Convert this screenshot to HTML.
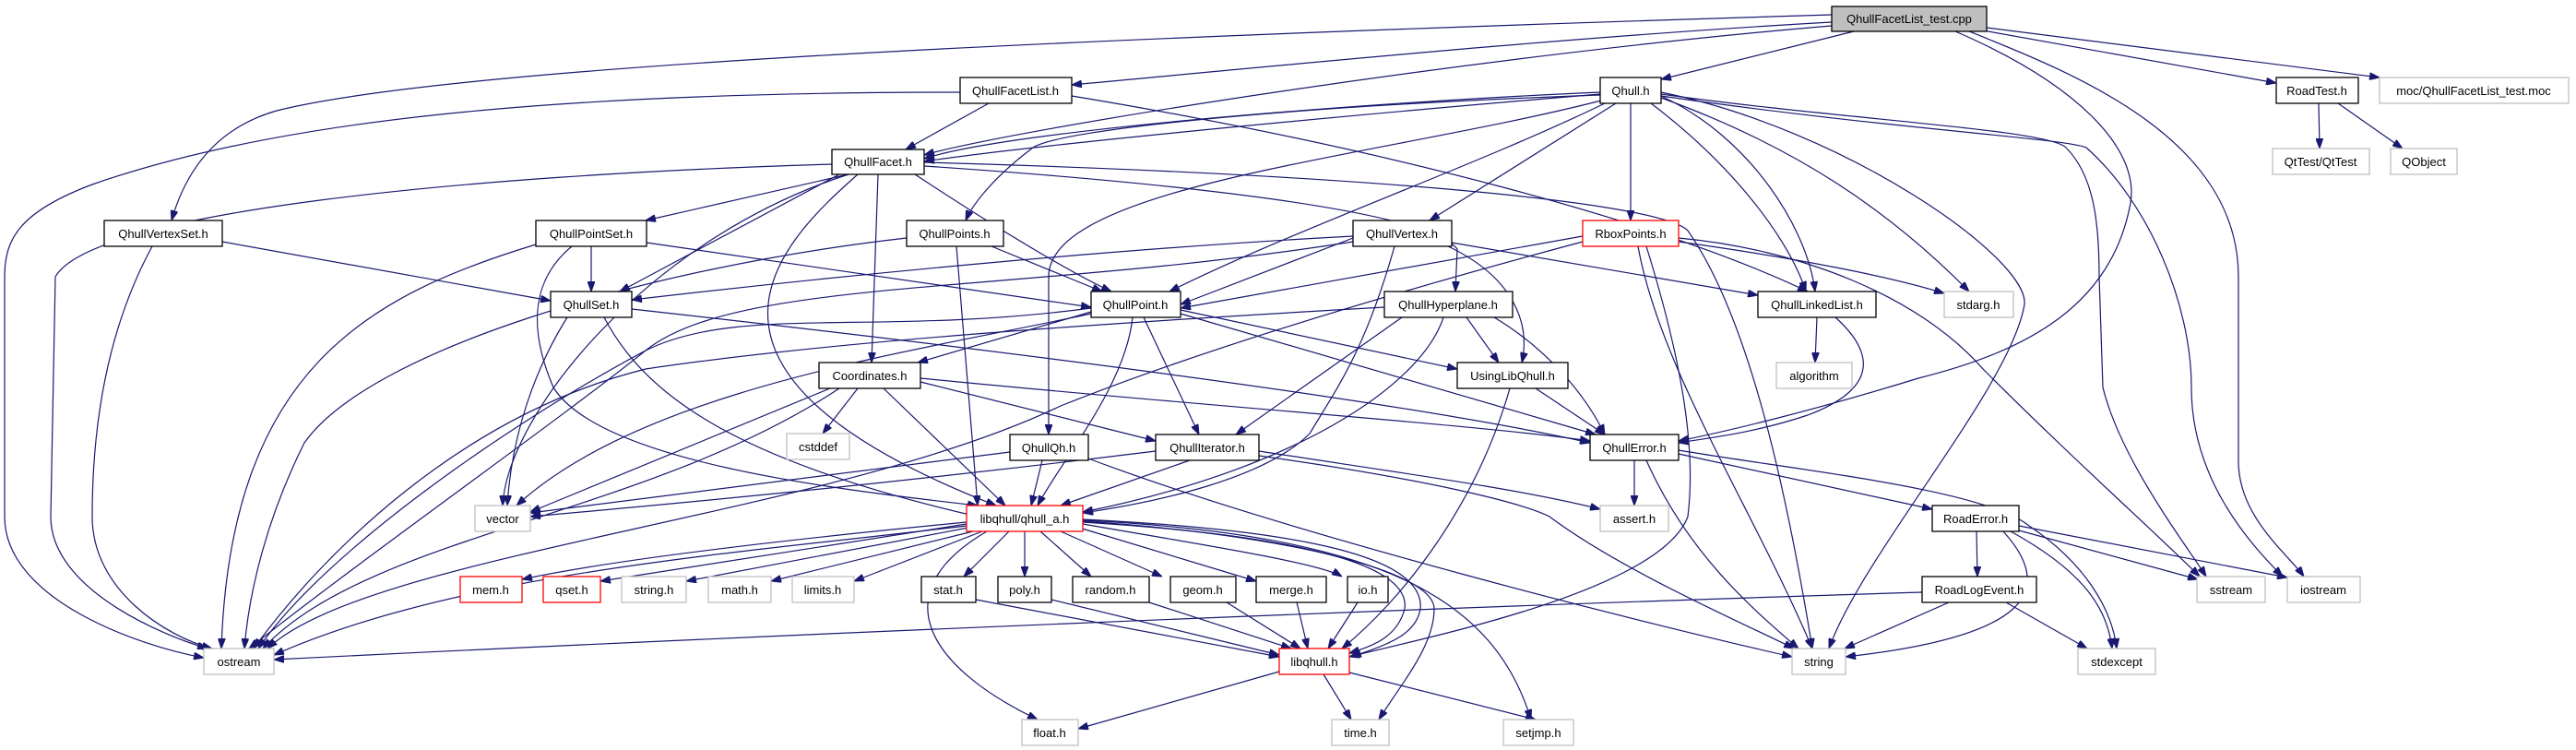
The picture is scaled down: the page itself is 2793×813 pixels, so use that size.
<!DOCTYPE html>
<html><head><meta charset="utf-8"><style>
html,body{margin:0;padding:0;background:#fff;}
svg{display:block;}
text{font-family:"Liberation Sans",sans-serif;font-size:13px;fill:#000;}
.e{fill:none;stroke:#191970;stroke-width:1.2;marker-end:url(#a);}
.n{fill:#fff;stroke:#000;stroke-width:1.3;}
.g{fill:#fff;stroke:#bfbfbf;stroke-width:1.3;}
.r{fill:#fff;stroke:#ff0000;stroke-width:1.3;}
</style></head><body>
<svg width="2793" height="813" viewBox="0 0 2793 813" xmlns="http://www.w3.org/2000/svg">
<defs><marker id="a" markerWidth="11" markerHeight="8" refX="11" refY="4" orient="auto" markerUnits="userSpaceOnUse"><path d="M0,0 L11,4 L0,8 z" fill="#191970" stroke="#191970"/></marker></defs>
<g>
<path class="e" d="M1986,24 C1700,40 1400,70 1162,92"/>
<path class="e" d="M1986,28 C1600,60 1100,140 1002,168"/>
<path class="e" d="M2010,34 L1801,86"/>
<path class="e" d="M1986,16 C1200,40 500,70 300,120 C230,140 200,190 186,239"/>
<path class="e" d="M2120,34 C2250,90 2320,160 2310,220 C2290,330 2200,380 2080,410 C1950,450 1860,470 1820,478"/>
<path class="e" d="M2135,34 C2250,80 2427,150 2427,300 L2427,500 C2427,560 2480,600 2498,625"/>
<path class="e" d="M2150,33 L2468,90"/>
<path class="e" d="M2154,30 L2580,84"/>
<path class="e" d="M2514,112 L2515,161"/>
<path class="e" d="M2535,112 L2605,161"/>
<path class="e" d="M1041,100 C600,100 300,130 100,200 C20,230 5,260 5,300 L5,560 C5,650 150,700 221,713"/>
<path class="e" d="M1072,112 L982,162"/>
<path class="e" d="M1162,104 C1500,160 1800,240 1960,316"/>
<path class="e" d="M1735,100 C1500,110 1100,140 1002,172"/>
<path class="e" d="M1735,102 C1400,130 1100,160 1002,175"/>
<path class="e" d="M1735,103 C1400,115 1150,140 1120,160 C1080,190 1055,220 1047,239"/>
<path class="e" d="M1740,112 C1600,180 1400,250 1268,316"/>
<path class="e" d="M1740,108 C1500,170 1137,200 1137,300 L1137,471"/>
<path class="e" d="M1752,112 L1550,239"/>
<path class="e" d="M1768,112 L1768,239"/>
<path class="e" d="M1801,104 C1900,150 1960,250 1968,316"/>
<path class="e" d="M1790,112 C1880,180 1940,260 1958,316"/>
<path class="e" d="M1801,106 C1950,160 2050,230 2135,316"/>
<path class="e" d="M1801,100 C2000,140 2200,280 2195,330 C2180,420 2020,600 1983,703"/>
<path class="e" d="M1801,102 C2000,130 2220,140 2240,160 C2270,190 2276,240 2276,300 L2280,420 C2300,500 2370,590 2392,625"/>
<path class="e" d="M1801,104 C2050,140 2240,150 2262,160 C2330,220 2376,330 2376,420 C2376,520 2440,590 2475,625"/>
<path class="e" d="M1820,258 C1950,270 2080,320 2150,400 C2250,500 2340,580 2385,625"/>
<path class="e" d="M1820,262 C1950,280 2050,300 2108,318"/>
<path class="e" d="M1574,263 L1906,320"/>
<path class="e" d="M1776,267 C1800,400 1900,550 1965,703"/>
<path class="e" d="M1785,267 C1820,380 1840,480 1830,560 C1800,640 1550,690 1463,712"/>
<path class="e" d="M1990,344 C2030,380 2040,420 1960,450 C1900,470 1850,475 1820,480"/>
<path class="e" d="M1772,499 L1772,548"/>
<path class="e" d="M1785,499 C1830,600 1900,660 1950,703"/>
<path class="e" d="M1820,492 L2095,552"/>
<path class="e" d="M1820,488 C1950,510 2150,530 2200,570 C2260,610 2290,660 2295,703"/>
<path class="e" d="M2143,576 L2144,625"/>
<path class="e" d="M2172,576 C2230,640 2200,690 2001,712"/>
<path class="e" d="M2189,575 L2383,628"/>
<path class="e" d="M2189,570 L2480,626"/>
<path class="e" d="M2180,576 C2260,620 2285,660 2290,703"/>
<path class="e" d="M2113,653 L2000,703"/>
<path class="e" d="M2175,653 L2263,703"/>
<path class="e" d="M2084,642 C1500,660 800,690 297,715"/>
<path class="e" d="M1365,489 C1500,510 1650,530 1735,552"/>
<path class="e" d="M1365,494 C1550,520 1650,545 1680,560 C1760,620 1900,680 1945,703"/>
<path class="e" d="M1253,489 C1000,520 800,540 575,560"/>
<path class="e" d="M1290,499 L1150,548"/>
<path class="e" d="M1130,499 L1118,548"/>
<path class="e" d="M1095,490 L575,556"/>
<path class="e" d="M1180,497 C1400,580 1800,680 1943,712"/>
<path class="e" d="M930,421 L892,470"/>
<path class="e" d="M900,421 L575,555"/>
<path class="e" d="M910,421 C700,560 400,580 285,703"/>
<path class="e" d="M998,414 L1253,478"/>
<path class="e" d="M958,421 L1090,548"/>
<path class="e" d="M998,410 C1300,440 1600,460 1724,478"/>
<path class="e" d="M1183,338 L995,393"/>
<path class="e" d="M1240,344 L1300,471"/>
<path class="e" d="M1228,344 C1220,420 1150,500 1125,548"/>
<path class="e" d="M1280,340 L1730,471"/>
<path class="e" d="M1280,336 L1580,400"/>
<path class="e" d="M1183,334 C950,365 800,330 700,380 C550,460 350,600 280,703"/>
<path class="e" d="M1183,340 C1000,380 700,420 560,548"/>
<path class="e" d="M1520,344 L1340,471"/>
<path class="e" d="M1590,344 L1625,393"/>
<path class="e" d="M1620,344 C1680,380 1720,430 1740,471"/>
<path class="e" d="M1565,344 C1540,420 1400,510 1174,555"/>
<path class="e" d="M1501,333 C1200,350 900,370 700,400 C500,450 350,600 275,703"/>
<path class="e" d="M1665,421 L1740,471"/>
<path class="e" d="M1637,421 C1600,550 1520,650 1455,703"/>
<path class="e" d="M1467,258 L1280,330"/>
<path class="e" d="M1467,256 C1200,270 900,300 685,325"/>
<path class="e" d="M1570,267 C1640,300 1660,350 1650,393"/>
<path class="e" d="M1512,267 C1480,380 1450,420 1420,470 C1370,520 1250,545 1174,556"/>
<path class="e" d="M1467,262 C1100,320 800,300 700,380 C600,460 400,600 270,703"/>
<path class="e" d="M1716,256 L1280,334"/>
<path class="e" d="M1716,262 C1500,320 1300,380 1150,440 C900,560 400,600 290,703"/>
<path class="e" d="M1075,267 L1195,316"/>
<path class="e" d="M1037,267 L1060,548"/>
<path class="e" d="M983,258 C700,290 400,380 330,480 C290,560 270,640 265,703"/>
<path class="e" d="M641,267 L641,316"/>
<path class="e" d="M701,263 L1183,333"/>
<path class="e" d="M581,265 C400,320 250,400 240,703"/>
<path class="e" d="M620,267 C580,300 570,350 600,420 C650,500 900,530 1060,548"/>
<path class="e" d="M241,262 L597,326"/>
<path class="e" d="M165,267 C120,350 100,450 100,560 C100,640 180,690 230,703"/>
<path class="e" d="M685,335 C1000,370 1500,430 1724,480"/>
<path class="e" d="M615,344 C580,400 555,470 550,548"/>
<path class="e" d="M655,344 C700,430 800,500 1060,560"/>
<path class="e" d="M902,178 C500,190 100,230 60,300 L55,560 C55,640 180,690 225,703"/>
<path class="e" d="M920,189 C700,260 550,450 545,548"/>
<path class="e" d="M910,189 L672,316"/>
<path class="e" d="M920,189 L700,239"/>
<path class="e" d="M952,189 L945,393"/>
<path class="e" d="M992,189 C1100,260 1170,300 1205,316"/>
<path class="e" d="M1002,180 C1300,200 1550,230 1580,270 L1578,316"/>
<path class="e" d="M1002,176 C1500,190 1800,220 1830,250 C1900,350 1940,550 1965,703"/>
<path class="e" d="M930,189 C850,260 700,400 1080,548"/>
<path class="e" d="M1048,566 C800,590 650,610 566,628"/>
<path class="e" d="M1048,568 L651,630"/>
<path class="e" d="M1050,572 L744,630"/>
<path class="e" d="M1055,576 L836,630"/>
<path class="e" d="M1065,576 L926,630"/>
<path class="e" d="M1094,576 L1045,625"/>
<path class="e" d="M1111,576 L1111,625"/>
<path class="e" d="M1128,576 L1183,625"/>
<path class="e" d="M1150,576 L1260,625"/>
<path class="e" d="M1170,572 L1362,630"/>
<path class="e" d="M1174,568 C1300,590 1430,610 1455,625"/>
<path class="e" d="M1174,566 C1400,580 1530,610 1523,660 C1515,690 1490,700 1463,708"/>
<path class="e" d="M1174,563 C1420,575 1545,605 1540,660 C1535,690 1500,700 1465,712"/>
<path class="e" d="M1070,576 C960,640 1000,720 1125,780"/>
<path class="e" d="M1174,565 C1400,580 1555,620 1555,660 C1555,700 1520,740 1495,780"/>
<path class="e" d="M1174,564 C1500,580 1620,650 1660,780"/>
<path class="e" d="M1048,570 C800,600 500,620 297,710"/>
<path class="e" d="M1058,650 L1387,712"/>
<path class="e" d="M1140,650 L1387,710"/>
<path class="e" d="M1246,653 L1400,703"/>
<path class="e" d="M1330,653 L1410,703"/>
<path class="e" d="M1406,653 L1418,703"/>
<path class="e" d="M1472,653 L1440,703"/>
<path class="e" d="M1387,728 L1169,790"/>
<path class="e" d="M1435,731 L1465,780"/>
<path class="e" d="M1463,729 L1665,780"/>
<path class="e" d="M1970,344 L1968,393"/>
</g>
<g text-anchor="middle">
<rect x="1986" y="7" width="168" height="27" fill="#bfbfbf" stroke="#000" stroke-width="1.3"/><text x="2070" y="25">QhullFacetList_test.cpp</text>
<rect class="n" x="1041" y="84" width="121" height="28"/><text x="1101" y="103">QhullFacetList.h</text>
<rect class="n" x="1735" y="84" width="66" height="28"/><text x="1768" y="103">Qhull.h</text>
<rect class="n" x="2468" y="84" width="89" height="28"/><text x="2512" y="103">RoadTest.h</text>
<rect class="g" x="2580" y="84" width="205" height="28"/><text x="2682" y="103">moc/QhullFacetList_test.moc</text>
<rect class="n" x="902" y="162" width="100" height="27"/><text x="952" y="180">QhullFacet.h</text>
<rect class="g" x="2464" y="161" width="105" height="28"/><text x="2516" y="180">QtTest/QtTest</text>
<rect class="g" x="2592" y="161" width="72" height="28"/><text x="2628" y="180">QObject</text>
<rect class="n" x="113" y="239" width="128" height="28"/><text x="177" y="258">QhullVertexSet.h</text>
<rect class="n" x="581" y="239" width="120" height="28"/><text x="641" y="258">QhullPointSet.h</text>
<rect class="n" x="983" y="239" width="105" height="28"/><text x="1035" y="258">QhullPoints.h</text>
<rect class="n" x="1467" y="239" width="107" height="28"/><text x="1520" y="258">QhullVertex.h</text>
<rect class="r" x="1716" y="239" width="104" height="28"/><text x="1768" y="258">RboxPoints.h</text>
<rect class="n" x="597" y="316" width="88" height="28"/><text x="641" y="335">QhullSet.h</text>
<rect class="n" x="1183" y="316" width="97" height="28"/><text x="1231" y="335">QhullPoint.h</text>
<rect class="n" x="1501" y="316" width="139" height="28"/><text x="1570" y="335">QhullHyperplane.h</text>
<rect class="n" x="1906" y="316" width="128" height="28"/><text x="1970" y="335">QhullLinkedList.h</text>
<rect class="g" x="2108" y="316" width="75" height="28"/><text x="2145" y="335">stdarg.h</text>
<rect class="n" x="888" y="393" width="110" height="28"/><text x="943" y="412">Coordinates.h</text>
<rect class="n" x="1580" y="393" width="120" height="28"/><text x="1640" y="412">UsingLibQhull.h</text>
<rect class="g" x="1926" y="393" width="82" height="28"/><text x="1967" y="412">algorithm</text>
<rect class="g" x="853" y="470" width="68" height="28"/><text x="887" y="489">cstddef</text>
<rect class="n" x="1095" y="471" width="85" height="28"/><text x="1137" y="490">QhullQh.h</text>
<rect class="n" x="1253" y="471" width="112" height="28"/><text x="1309" y="490">QhullIterator.h</text>
<rect class="n" x="1724" y="471" width="96" height="28"/><text x="1772" y="490">QhullError.h</text>
<rect class="g" x="515" y="548" width="60" height="28"/><text x="545" y="567">vector</text>
<rect class="r" x="1048" y="548" width="126" height="28"/><text x="1111" y="567">libqhull/qhull_a.h</text>
<rect class="g" x="1735" y="548" width="74" height="28"/><text x="1772" y="567">assert.h</text>
<rect class="n" x="2095" y="548" width="94" height="28"/><text x="2142" y="567">RoadError.h</text>
<rect class="r" x="499" y="625" width="67" height="28"/><text x="532" y="644">mem.h</text>
<rect class="r" x="589" y="625" width="62" height="28"/><text x="620" y="644">qset.h</text>
<rect class="g" x="674" y="625" width="70" height="28"/><text x="709" y="644">string.h</text>
<rect class="g" x="768" y="625" width="68" height="28"/><text x="802" y="644">math.h</text>
<rect class="g" x="859" y="625" width="67" height="28"/><text x="892" y="644">limits.h</text>
<rect class="n" x="999" y="625" width="59" height="28"/><text x="1028" y="644">stat.h</text>
<rect class="n" x="1082" y="625" width="58" height="28"/><text x="1111" y="644">poly.h</text>
<rect class="n" x="1163" y="625" width="83" height="28"/><text x="1204" y="644">random.h</text>
<rect class="n" x="1269" y="625" width="71" height="28"/><text x="1304" y="644">geom.h</text>
<rect class="n" x="1362" y="625" width="76" height="28"/><text x="1400" y="644">merge.h</text>
<rect class="n" x="1461" y="625" width="44" height="28"/><text x="1483" y="644">io.h</text>
<rect class="n" x="2084" y="625" width="124" height="28"/><text x="2146" y="644">RoadLogEvent.h</text>
<rect class="g" x="2382" y="625" width="74" height="28"/><text x="2419" y="644">sstream</text>
<rect class="g" x="2480" y="625" width="79" height="28"/><text x="2519" y="644">iostream</text>
<rect class="g" x="221" y="703" width="76" height="28"/><text x="259" y="722">ostream</text>
<rect class="r" x="1387" y="703" width="76" height="28"/><text x="1425" y="722">libqhull.h</text>
<rect class="g" x="1943" y="703" width="58" height="28"/><text x="1972" y="722">string</text>
<rect class="g" x="2253" y="703" width="84" height="28"/><text x="2295" y="722">stdexcept</text>
<rect class="g" x="1108" y="780" width="61" height="28"/><text x="1138" y="799">float.h</text>
<rect class="g" x="1444" y="780" width="62" height="28"/><text x="1475" y="799">time.h</text>
<rect class="g" x="1630" y="780" width="76" height="28"/><text x="1668" y="799">setjmp.h</text>
</g>
</svg>
</body></html>
